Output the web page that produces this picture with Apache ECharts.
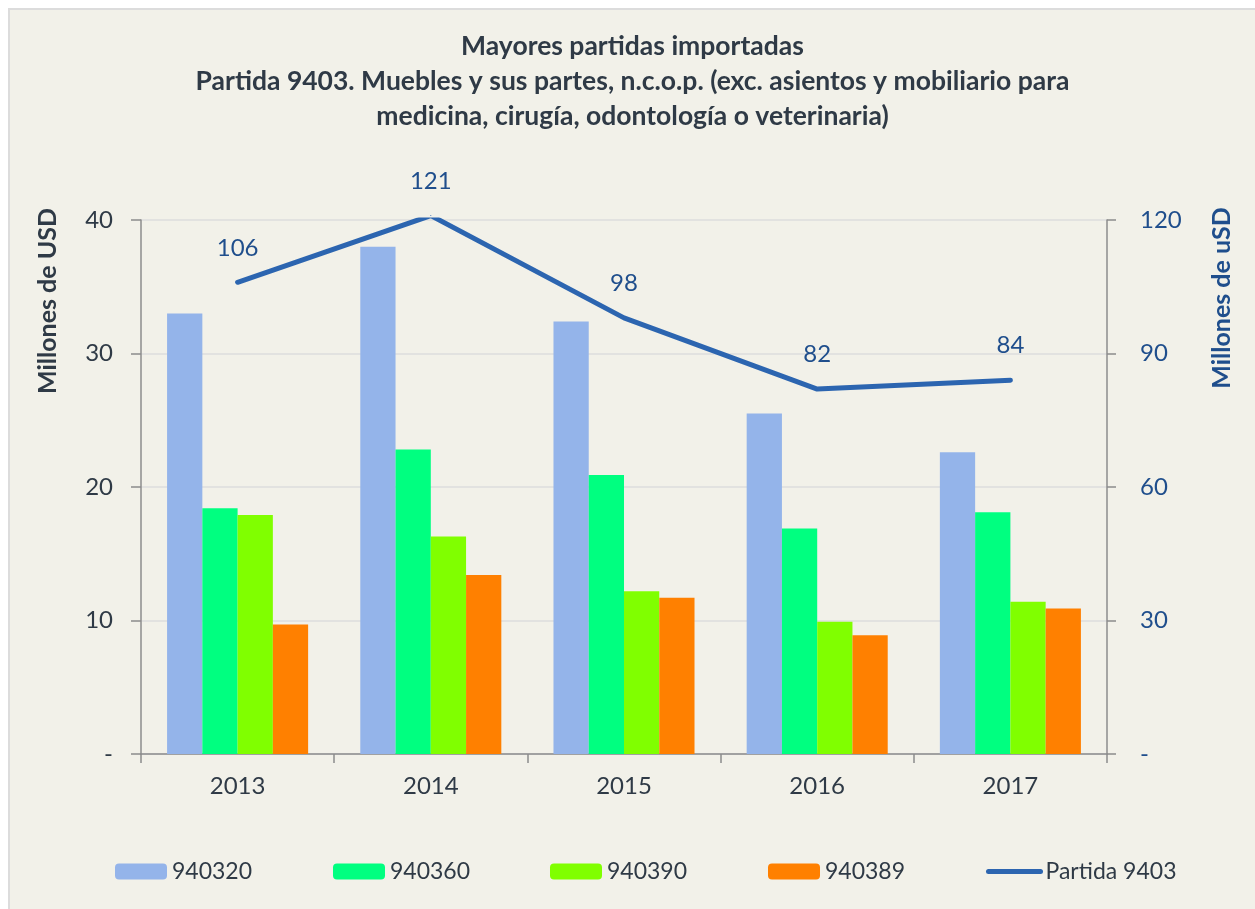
<!DOCTYPE html>
<html>
<head>
<meta charset="utf-8">
<script src="https://cdn.jsdelivr.net/npm/echarts@6/dist/echarts.min.js"></script>
<style>
  html, body { margin: 0; padding: 0; background: #ffffff; }
  #frame {
    position: absolute;
    left: 8px;
    top: 8px;
    border-left: 2px solid #dcdcdc;
    border-top: 2px solid #dcdcdc;
  }
  #chart { width: 1245px; height: 899px; }
</style>
</head>
<body>
<div id="frame"><div id="chart"></div></div>
<script>
const years = ["2013", "2014", "2015", "2016", "2017"];
const s940320 = [33.0, 38.0, 32.4, 25.5, 22.6];
const s940360 = [18.4, 22.8, 20.9, 16.9, 18.1];
const s940390 = [17.9, 16.3, 12.2, 9.9, 11.4];
const s940389 = [9.7, 13.4, 11.7, 8.9, 10.9];
const partida9403 = [106, 121, 98, 82, 84];

const TEXT_DARK = "#2f3a46";
const BLUE_DARK = "#1f4e8c";
const LINE_BLUE = "#2c65b0";
const FONT = "Lato, 'Noto Sans', sans-serif";

const chart = echarts.init(document.getElementById("chart"));

function barSeries(name, data, color) {
  return {
    name: name,
    type: "bar",
    data: data,
    barGap: "0%",
    barCategoryGap: "27%",
    itemStyle: { color: color },
  };
}

// one legend per item so the spacing matches the original
const legendLefts = [100, 318, 535, 753, 971];
const legendNames = ["940320", "940360", "940390", "940389", "Partida 9403"];
const legends = legendNames.map((name, i) => ({
  left: legendLefts[i],
  top: 845,
  itemWidth: 52,
  itemHeight: 16,
  textStyle: { color: TEXT_DARK, fontSize: 23, fontFamily: FONT },
  data: [
    name === "Partida 9403"
      ? { name: name, itemStyle: { opacity: 0 }, lineStyle: { width: 5, color: LINE_BLUE } }
      : name,
  ],
}));

chart.setOption({
  backgroundColor: "#f2f1e9",
  textStyle: { fontFamily: FONT },
  title: {
    text: "Mayores partidas importadas\nPartida 9403. Muebles y sus partes, n.c.o.p. (exc. asientos y mobiliario para\nmedicina, cirugía, odontología o veterinaria)",
    left: "center",
    top: 14,
    textStyle: {
      color: TEXT_DARK,
      fontSize: 26.5,
      fontWeight: "bold",
      lineHeight: 35,
      fontFamily: FONT,
    },
  },
  graphic: [
    {
      type: "text",
      x: 38,
      y: 291,
      rotation: Math.PI / 2,
      style: {
        text: "Millones de USD",
        fill: TEXT_DARK,
        font: "bold 25px Lato, sans-serif",
        align: "center",
        verticalAlign: "middle",
      },
    },
    {
      type: "text",
      x: 1212,
      y: 288,
      rotation: Math.PI / 2,
      style: {
        text: "Millones de uSD",
        fill: BLUE_DARK,
        font: "bold 25px Lato, sans-serif",
        align: "center",
        verticalAlign: "middle",
      },
    },
  ],
  legend: legends,
  grid: {
    left: 131,
    right: 148,
    top: 210,
    bottom: 155,
  },
  xAxis: {
    type: "category",
    data: years,
    axisLine: { lineStyle: { color: "#8c8c8c", width: 1.5 } },
    axisTick: { show: true, length: 9, lineStyle: { color: "#8c8c8c", width: 1.5 } },
    axisLabel: { color: TEXT_DARK, fontSize: 24, margin: 20 },
  },
  yAxis: [
    {
      type: "value",
      min: 0,
      max: 40,
      interval: 10,
      axisLine: { show: true, lineStyle: { color: "#8c8c8c", width: 1.5 } },
      axisTick: { show: true, length: 10, lineStyle: { color: "#8c8c8c", width: 1.5 } },
      axisLabel: {
        color: TEXT_DARK,
        fontSize: 24,
        margin: 28,
        formatter: (v) => (v === 0 ? "-" : String(v)),
      },
      splitLine: { lineStyle: { color: "#dcdcdc", width: 1.5 } },
    },
    {
      type: "value",
      min: 0,
      max: 120,
      interval: 30,
      position: "right",
      axisLine: { show: true, lineStyle: { color: "#8c8c8c", width: 1.5 } },
      axisTick: { show: true, length: 9, lineStyle: { color: "#8c8c8c", width: 1.5 } },
      axisLabel: {
        color: BLUE_DARK,
        fontSize: 24,
        margin: 33,
        align: "left",
        formatter: (v) => (v === 0 ? "-" : String(v)),
      },
      splitLine: { show: false },
    },
  ],
  series: [
    barSeries("940320", s940320, "#94b4ea"),
    barSeries("940360", s940360, "#00ff80"),
    barSeries("940390", s940390, "#80ff00"),
    barSeries("940389", s940389, "#ff8000"),
    {
      name: "Partida 9403",
      type: "line",
      yAxisIndex: 1,
      data: partida9403,
      clip: false,
      symbol: "circle",
      symbolSize: 1,
      showSymbol: true,
      lineStyle: { color: LINE_BLUE, width: 5, cap: "round", join: "round" },
      itemStyle: { color: LINE_BLUE },
      label: {
        show: true,
        position: "top",
        distance: 22,
        color: BLUE_DARK,
        fontSize: 24,
      },
      z: 5,
    },
  ],
});
</script>
</body>
</html>
